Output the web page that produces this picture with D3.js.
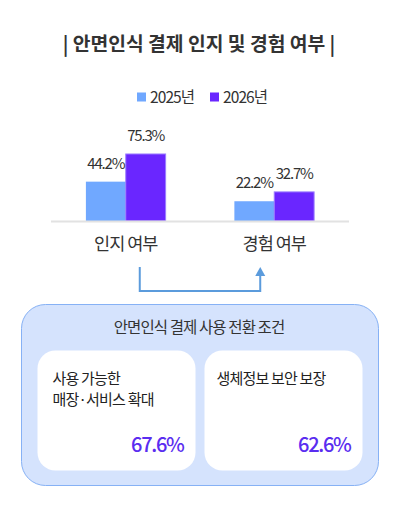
<!DOCTYPE html>
<html>
<head>
<meta charset="utf-8">
<script src="https://cdn.jsdelivr.net/npm/d3@7"></script>
<style>
  body { margin: 0; background: #fff; }
  svg text { font-family: "Noto Sans CJK KR", "Noto Sans", sans-serif; }
</style>
</head>
<body>
<div id="chart"></div>
<script>
// chart data
const categories = ['인지 여부', '경험 여부'];
const years = ['2025년', '2026년'];
const values2025 = [44.2, 22.2];
const values2026 = [75.3, 32.7];
const conditionLabels = [['사용 가능한', '매장·서비스 확대'], ['생체정보 보안 보장']];
const conditionValues = [67.6, 62.6];

const width = 406;
const height = 506;
const colors = ['#70a8ff', '#6a26ff'];

const svg = d3.select('#chart')
  .append('svg')
  .attr('width', width)
  .attr('height', height);

// title
svg.append('text')
  .attr('x', 199).attr('y', 50.5)
  .attr('text-anchor', 'middle')
  .attr('font-size', 19.3).attr('font-weight', 700)
  .attr('fill', '#333')
  .text('| 안면인식 결제 인지 및 경험 여부 |');

// legend
const legend = svg.append('g').attr('transform', 'translate(137,97)');
years.forEach((y, i) => {
  const g = legend.append('g').attr('transform', `translate(${i * 73},0)`);
  g.append('rect').attr('x', 0).attr('y', -4.5).attr('width', 9).attr('height', 9).attr('fill', colors[i]);
  g.append('text').attr('x', 13).attr('y', 5.5).attr('font-size', 15.5)
    .attr('letter-spacing', -0.9).attr('fill', '#333').text(y);
});

// bar chart
const x0 = d3.scaleBand().domain(categories).range([51, 349]).paddingInner(0.463).paddingOuter(0.235);
const x1 = d3.scaleBand().domain(years).range([0, x0.bandwidth()]);
const y = d3.scaleLinear().domain([0, 100]).range([221, 132]);

const rows = categories.map((c, i) => ({ cat: c, vals: [values2025[i], values2026[i]] }));

const groups = svg.selectAll('.grp')
  .data(rows)
  .join('g')
  .attr('class', 'grp')
  .attr('transform', d => `translate(${x0(d.cat)},0)`);

groups.selectAll('rect')
  .data(d => d.vals.map((v, i) => ({ year: years[i], v, i })))
  .join('rect')
  .attr('x', d => x1(d.year))
  .attr('y', d => y(d.v))
  .attr('width', x1.bandwidth())
  .attr('height', d => y(0) - y(d.v))
  .attr('fill', d => colors[d.i])
  .attr('stroke', d => d.i === 1 ? '#9b7dff' : 'none')
  .attr('stroke-width', 1);

groups.selectAll('.val')
  .data(d => d.vals.map((v, i) => ({ year: years[i], v, i })))
  .join('text')
  .attr('class', 'val')
  .attr('x', d => x1(d.year) + x1.bandwidth() / 2)
  .attr('y', d => y(d.v) - 13)
  .attr('text-anchor', 'middle')
  .attr('font-size', 15)
  .attr('letter-spacing', -1.2)
  .attr('fill', '#333')
  .text(d => d.v.toFixed(1) + '%');

svg.append('line')
  .attr('x1', 51).attr('x2', 349)
  .attr('y1', 221.5).attr('y2', 221.5)
  .attr('stroke', '#e2e2e2').attr('stroke-width', 2);

svg.selectAll('.cat')
  .data(categories)
  .join('text')
  .attr('class', 'cat')
  .attr('x', d => x0(d) + x0.bandwidth() / 2)
  .attr('y', 250)
  .attr('text-anchor', 'middle')
  .attr('font-size', 17.5)
  .attr('letter-spacing', -1)
  .attr('fill', '#333')
  .text(d => d);

// connector arrow
const ax1 = x0(categories[0]) + x0.bandwidth() / 2 + 14;
const ax2 = x0(categories[1]) + x0.bandwidth() / 2 - 14;
svg.append('path')
  .attr('d', `M${ax1},267 V291 H${ax2} V275`)
  .attr('fill', 'none')
  .attr('stroke', '#5b9bdc')
  .attr('stroke-width', 2);
svg.append('path')
  .attr('d', `M${ax2 - 5},276 L${ax2},267 L${ax2 + 5},276 Z`)
  .attr('fill', '#5b9bdc');

// conditions box
svg.append('rect')
  .attr('x', 21.5).attr('y', 304.5)
  .attr('width', 357).attr('height', 181)
  .attr('rx', 24)
  .attr('fill', '#d5e3fd')
  .attr('stroke', '#86b1f5')
  .attr('stroke-width', 1);

svg.append('text')
  .attr('x', 199).attr('y', 333)
  .attr('text-anchor', 'middle')
  .attr('font-size', 15.5)
  .attr('letter-spacing', -0.9)
  .attr('fill', '#333')
  .text('안면인식 결제 사용 전환 조건');

const cards = svg.selectAll('.card')
  .data(conditionValues.map((v, i) => ({ v, lines: conditionLabels[i], i })))
  .join('g')
  .attr('class', 'card')
  .attr('transform', d => `translate(${d.i === 0 ? 37.5 : 204.5},350.5)`);

cards.append('rect')
  .attr('width', 158).attr('height', 120)
  .attr('rx', 18)
  .attr('fill', '#fff');

cards.each(function (d) {
  const g = d3.select(this);
  d.lines.forEach((l, j) => {
    g.append('text')
      .attr('x', d.i === 0 ? 15 : 12)
      .attr('y', 33 + j * 21)
      .attr('font-size', 15)
      .attr('letter-spacing', -0.8)
      .attr('fill', '#222')
      .text(l);
  });
});

cards.append('text')
  .attr('x', 146)
  .attr('y', 101)
  .attr('text-anchor', 'end')
  .attr('font-size', 20)
  .attr('font-weight', 500)
  .attr('letter-spacing', -1.3)
  .attr('fill', '#5a2df0')
  .text(d => d.v.toFixed(1) + '%');
</script>
</body>
</html>
